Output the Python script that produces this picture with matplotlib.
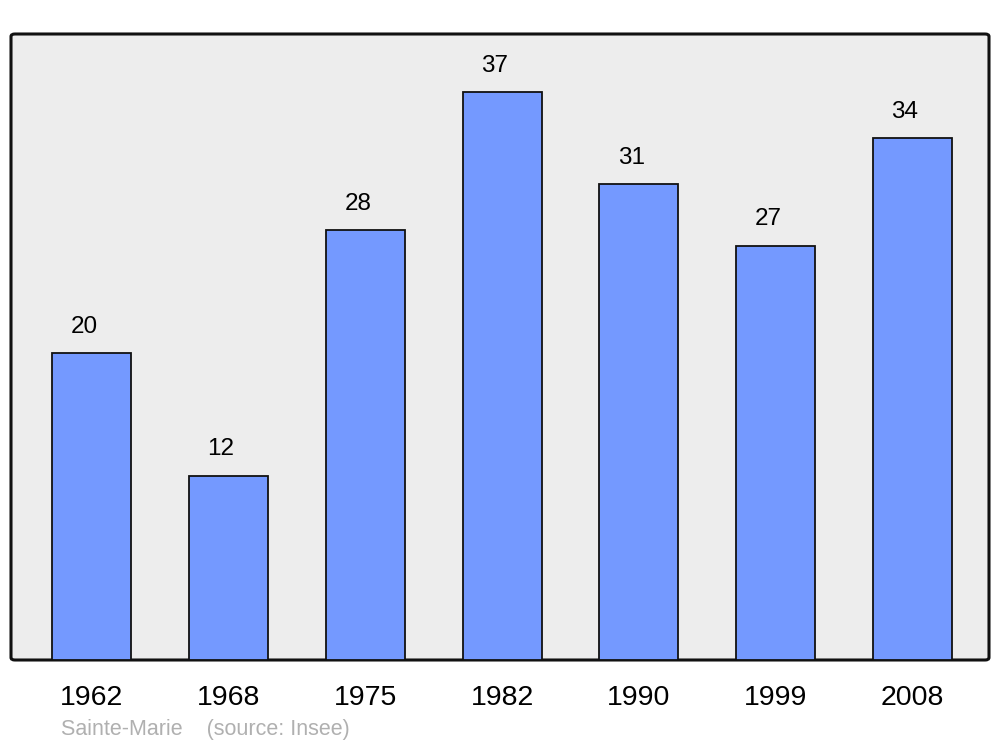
import matplotlib.pyplot as plt
from matplotlib.patches import FancyBboxPatch

years = ["1962", "1968", "1975", "1982", "1990", "1999", "2008"]
population = [20, 12, 28, 37, 31, 27, 34]

plt.rcParams["font.family"] = ["Liberation Sans", "DejaVu Sans"]

fig = plt.figure(figsize=(10, 7.47), dpi=100)
ax = fig.add_axes([0.011, 1 - 660 / 747, 0.978, 626 / 747])
ax.set_facecolor("none")
for s in ax.spines.values():
    s.set_visible(False)

# rounded frame behind the bars
frame = FancyBboxPatch((0, 0), 1, 1, boxstyle="round,pad=0,rounding_size=0.004",
                       transform=ax.transAxes, facecolor="#ededed",
                       edgecolor="#111111", linewidth=2.2, zorder=0, clip_on=False)
ax.add_patch(frame)

x = list(range(len(years)))
ax.bar(x, population, width=0.578, color="#7499ff", edgecolor="#111111",
       linewidth=1.3, zorder=2)

for xi, v in zip(x, population):
    ax.annotate(str(v), (xi, v), xytext=(-5.5, 19), textcoords="offset points",
                ha="center", va="center", fontsize=17.5, color="black")

ax.set_xlim(-0.592, 6.56)
ax.set_ylim(0, 40.8)
ax.set_yticks([])
ax.set_xticks(x)
ax.set_xticklabels(years, fontsize=20.5)
ax.tick_params(axis="x", length=0, pad=18)

fig.text(0.061, 1 - 730 / 747, "Sainte-Marie    (source: Insee)", fontsize=15.5,
         color="#b0b0b0", ha="left", va="center")

fig.savefig("out.png", dpi=100)
